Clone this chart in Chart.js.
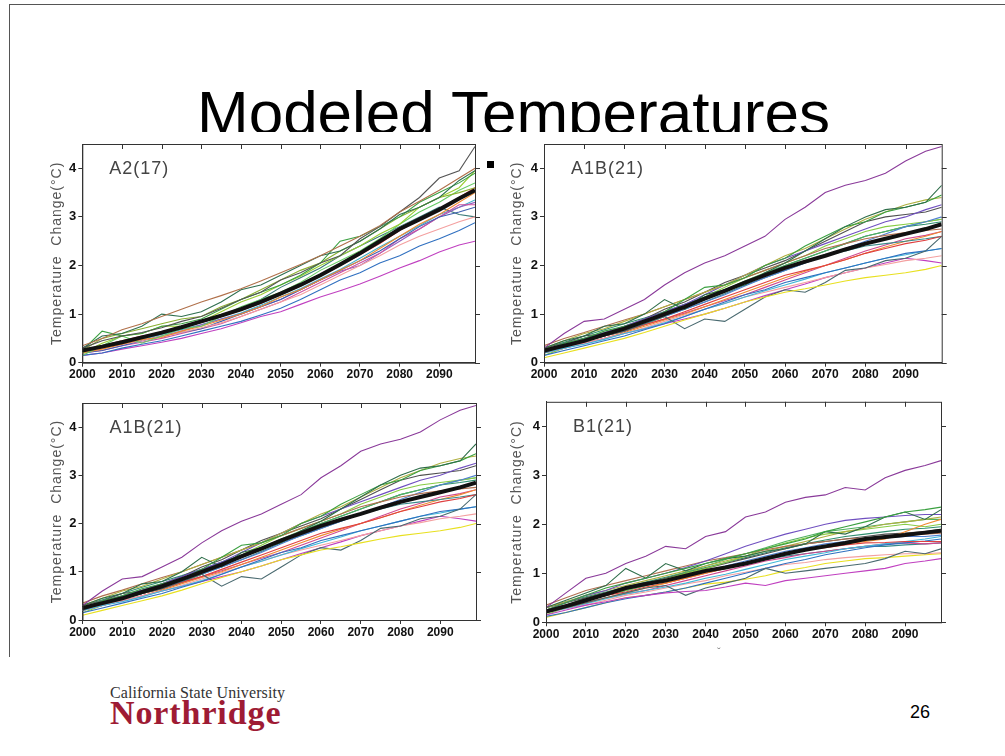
<!DOCTYPE html>
<html>
<head>
<meta charset="utf-8">
<script src="https://cdn.jsdelivr.net/npm/chart.js@4.4.0/dist/chart.umd.min.js"></script>
<style>
    body { margin: 0; width: 1005px; height: 756px; background: #fff; position: relative; overflow: hidden; font-family: "Liberation Sans", Arial, sans-serif; }
    #slide-frame { position: absolute; left: 9px; top: 4px; width: 1010px; height: 652px; border-left: 1.5px solid #555; border-top: 1.5px solid #555; }
    #title { position: absolute; left: 197px; top: 82px; font-size: 62px; line-height: 62px; color: #000; white-space: nowrap; }
    #cover { position: absolute; left: 30px; top: 132px; width: 935px; height: 530px; background: #fff; }
    canvas { position: absolute; }
    #marker { position: absolute; left: 487px; top: 161px; width: 7px; height: 7px; background: #000; }
    #tick-mark { position: absolute; left: 717px; top: 646px; font-size: 11px; color: #777; }
    #csu { position: absolute; left: 110px; top: 685px; font-family: "Liberation Serif", serif; font-size: 16px; line-height: 16px; color: #333; white-space: nowrap; letter-spacing: 0.1px; }
    #northridge { position: absolute; left: 110px; top: 696px; font-family: "Liberation Serif", serif; font-weight: bold; font-size: 34px; line-height: 34px; color: #9e1b34; letter-spacing: 0.9px; white-space: nowrap; }
    #page { position: absolute; left: 910px; top: 703px; font-size: 18px; line-height: 18px; color: #000; }
</style>
</head>
<body>
<div id="slide-frame"></div>
<div id="title">Modeled Temperatures</div>
<div id="cover"></div>
<canvas id="chart-a2" width="450" height="260" style="left:40px;top:132px;"></canvas>
<canvas id="chart-a1b-1" width="460" height="260" style="left:500px;top:132px;"></canvas>
<canvas id="chart-a1b-2" width="450" height="265" style="left:40px;top:392px;"></canvas>
<canvas id="chart-b1" width="460" height="265" style="left:500px;top:392px;"></canvas>
<div id="marker"></div>
<div id="tick-mark">ˇ</div>
<div id="csu">California State University</div>
<div id="northridge">Northridge</div>
<div id="page">26</div>

<script>
// sample years (every 5 years, last one 2099)
const years = [2000, 2005, 2010, 2015, 2020, 2025, 2030, 2035, 2040, 2045, 2050, 2055, 2060, 2065, 2070, 2075, 2080, 2085, 2090, 2095, 2099];
const yTicks = [0, 1, 2, 3, 4];
const xTicks = [2000, 2010, 2020, 2030, 2040, 2050, 2060, 2070, 2080, 2090];

// ---- A2 (17 models) ----
const a2Mean = [0.25, 0.33, 0.42, 0.52, 0.62, 0.73, 0.85, 0.97, 1.10, 1.25, 1.42, 1.60, 1.80, 2.02, 2.25, 2.50, 2.75, 2.95, 3.15, 3.38, 3.55];
const a2Brown = [0.35, 0.50, 0.68, 0.80, 0.95, 1.10, 1.25, 1.38, 1.52, 1.68, 1.85, 2.02, 2.20, 2.40, 2.60, 2.82, 3.10, 3.32, 3.55, 3.80, 4.00];
const a2Gray = [0.30, 0.45, 0.55, 0.62, 0.72, 0.85, 0.95, 1.12, 1.30, 1.45, 1.70, 1.85, 2.05, 2.20, 2.55, 2.80, 3.10, 3.40, 3.80, 3.95, 4.45];
const a2DarkGreen = [0.30, 0.55, 0.60, 0.75, 1.00, 0.95, 1.05, 1.25, 1.50, 1.60, 1.80, 2.00, 2.20, 2.30, 2.50, 2.75, 3.05, 3.20, 3.40, 3.75, 3.95];
const a2Green = [0.25, 0.65, 0.55, 0.60, 0.75, 0.80, 0.90, 1.10, 1.30, 1.45, 1.60, 1.80, 2.05, 2.50, 2.60, 2.80, 3.00, 3.30, 3.50, 3.70, 3.90];
const a2YellowGreen = [0.20, 0.40, 0.55, 0.60, 0.75, 0.75, 0.85, 1.05, 1.25, 1.40, 1.60, 1.78, 2.00, 2.20, 2.40, 2.65, 2.85, 3.20, 3.40, 3.60, 3.95];
const a2Olive = [0.25, 0.50, 0.60, 0.70, 0.80, 0.90, 0.95, 1.15, 1.30, 1.50, 1.70, 1.90, 2.05, 2.30, 2.50, 2.75, 3.00, 3.20, 3.40, 3.50, 3.60];
const a2LightGreen = [0.15, 0.35, 0.55, 0.40, 0.55, 0.70, 0.75, 0.95, 1.15, 1.30, 1.45, 1.65, 1.90, 2.10, 2.30, 2.55, 2.85, 3.10, 3.30, 3.55, 3.70];
const a2Red = [0.25, 0.35, 0.45, 0.55, 0.62, 0.72, 0.83, 0.95, 1.08, 1.22, 1.40, 1.58, 1.78, 2.00, 2.22, 2.45, 2.72, 2.95, 3.15, 3.40, 3.60];
const a2Orange = [0.20, 0.28, 0.38, 0.48, 0.52, 0.65, 0.75, 0.88, 1.00, 1.15, 1.35, 1.50, 1.70, 1.90, 2.10, 2.35, 2.60, 2.85, 3.05, 3.30, 3.50];
const a2Salmon = [0.20, 0.30, 0.38, 0.45, 0.55, 0.62, 0.72, 0.82, 0.95, 1.10, 1.25, 1.40, 1.60, 1.80, 2.00, 2.20, 2.42, 2.60, 2.75, 2.90, 3.00];
const a2Blue = [0.15, 0.20, 0.30, 0.38, 0.45, 0.55, 0.65, 0.75, 0.85, 0.98, 1.12, 1.30, 1.50, 1.70, 1.85, 2.05, 2.20, 2.40, 2.55, 2.72, 2.88];
const a2Blue2 = [0.20, 0.25, 0.35, 0.45, 0.55, 0.62, 0.70, 0.85, 1.00, 1.15, 1.30, 1.50, 1.70, 1.90, 2.10, 2.30, 2.55, 2.80, 3.00, 3.10, 3.20];
const a2Magenta = [0.15, 0.20, 0.28, 0.35, 0.42, 0.50, 0.60, 0.70, 0.82, 0.95, 1.05, 1.20, 1.35, 1.48, 1.62, 1.78, 1.95, 2.10, 2.28, 2.42, 2.50];
const a2Magenta2 = [0.20, 0.25, 0.35, 0.42, 0.50, 0.60, 0.70, 0.80, 0.95, 1.10, 1.25, 1.45, 1.65, 1.85, 2.05, 2.25, 2.55, 2.75, 3.00, 3.25, 3.25];
const a2Purple = [0.20, 0.30, 0.38, 0.45, 0.55, 0.65, 0.78, 0.90, 1.00, 1.15, 1.30, 1.50, 1.70, 1.88, 2.00, 2.25, 2.50, 2.75, 3.00, 3.20, 3.30];
const a2Teal = [0.25, 0.35, 0.45, 0.50, 0.62, 0.72, 0.85, 0.98, 1.12, 1.30, 1.55, 1.75, 1.95, 2.20, 2.40, 2.60, 2.80, 3.00, 3.20, 3.05, 3.00];
const a2Cyan = [0.20, 0.30, 0.40, 0.48, 0.58, 0.68, 0.78, 0.90, 1.02, 1.18, 1.35, 1.52, 1.72, 1.92, 2.15, 2.38, 2.60, 2.82, 3.05, 3.20, 3.35];

// ---- A1B (21 models) ----
const a1bMean = [0.25, 0.35, 0.45, 0.58, 0.70, 0.85, 1.00, 1.15, 1.32, 1.48, 1.65, 1.80, 1.95, 2.08, 2.20, 2.33, 2.45, 2.55, 2.65, 2.75, 2.85];
const a1bPurpleTop = [0.30, 0.60, 0.85, 0.90, 1.10, 1.30, 1.60, 1.85, 2.05, 2.20, 2.40, 2.60, 2.95, 3.20, 3.50, 3.65, 3.75, 3.90, 4.15, 4.35, 4.45];
const a1bYellow = [0.10, 0.20, 0.30, 0.40, 0.50, 0.62, 0.75, 0.88, 1.00, 1.12, 1.25, 1.35, 1.45, 1.52, 1.60, 1.68, 1.75, 1.80, 1.85, 1.92, 2.00];
const a1bSlate = [0.20, 0.35, 0.45, 0.55, 0.65, 0.80, 0.95, 0.70, 0.90, 0.85, 1.10, 1.35, 1.50, 1.45, 1.65, 1.90, 1.95, 2.10, 2.15, 2.30, 2.60];
const a1bDarkGreen = [0.30, 0.45, 0.55, 0.75, 0.80, 1.00, 1.30, 1.10, 1.40, 1.50, 1.60, 1.85, 2.05, 2.30, 2.55, 2.80, 3.00, 3.15, 3.20, 3.30, 3.65];
const a1bGreen = [0.25, 0.40, 0.50, 0.65, 0.75, 0.85, 1.05, 1.30, 1.55, 1.60, 1.75, 2.00, 2.15, 2.40, 2.60, 2.80, 2.90, 3.10, 3.20, 3.30, 3.45];
const a1bOlive = [0.30, 0.45, 0.60, 0.70, 0.85, 1.00, 1.15, 1.30, 1.45, 1.60, 1.80, 2.00, 2.20, 2.35, 2.55, 2.75, 2.95, 3.10, 3.25, 3.35, 3.40];
const a1bBrown = [0.35, 0.50, 0.62, 0.75, 0.88, 1.00, 1.15, 1.30, 1.45, 1.60, 1.75, 1.90, 2.05, 2.20, 2.35, 2.45, 2.55, 2.62, 2.68, 2.72, 2.75];
const a1bRed = [0.25, 0.35, 0.45, 0.55, 0.65, 0.78, 0.90, 1.05, 1.20, 1.35, 1.50, 1.65, 1.80, 1.90, 2.00, 2.12, 2.25, 2.35, 2.45, 2.52, 2.60];
const a1bBlue = [0.15, 0.25, 0.35, 0.45, 0.55, 0.68, 0.80, 0.95, 1.10, 1.25, 1.40, 1.50, 1.65, 1.75, 1.85, 1.95, 2.05, 2.15, 2.25, 2.30, 2.35];
const a1bCyan = [0.20, 0.30, 0.38, 0.48, 0.60, 0.70, 0.82, 0.95, 1.10, 1.22, 1.35, 1.48, 1.60, 1.72, 1.85, 1.95, 2.05, 2.15, 2.22, 2.30, 2.35];
const a1bPink = [0.20, 0.30, 0.40, 0.50, 0.60, 0.72, 0.85, 0.98, 1.10, 1.22, 1.35, 1.45, 1.55, 1.65, 1.75, 1.85, 1.95, 2.02, 2.10, 2.15, 2.20];
const a1bMagenta = [0.20, 0.30, 0.40, 0.50, 0.60, 0.70, 0.80, 0.90, 1.00, 1.12, 1.25, 1.38, 1.50, 1.62, 1.75, 1.85, 1.95, 2.05, 2.15, 2.10, 2.05];
const a1bPurple2 = [0.25, 0.40, 0.50, 0.62, 0.75, 0.90, 1.05, 1.20, 1.40, 1.60, 1.80, 2.00, 2.15, 2.30, 2.45, 2.60, 2.75, 2.90, 3.00, 3.15, 3.25];
const a1bBlue2 = [0.25, 0.35, 0.45, 0.55, 0.68, 0.80, 0.95, 1.10, 1.25, 1.40, 1.58, 1.75, 1.90, 2.05, 2.20, 2.35, 2.50, 2.65, 2.80, 2.90, 3.00];
const a1bLightGreen = [0.15, 0.30, 0.42, 0.55, 0.65, 0.78, 0.95, 1.15, 1.35, 1.55, 1.75, 1.90, 2.05, 2.20, 2.40, 2.55, 2.70, 2.80, 2.85, 2.90, 2.95];
const a1bGray = [0.30, 0.40, 0.55, 0.60, 0.75, 0.90, 1.10, 1.25, 1.45, 1.65, 1.80, 1.95, 2.10, 2.30, 2.50, 2.70, 2.90, 3.00, 3.05, 3.10, 3.20];
const a1bTeal = [0.25, 0.35, 0.48, 0.55, 0.70, 0.82, 0.95, 1.10, 1.25, 1.42, 1.60, 1.75, 1.90, 2.05, 2.20, 2.30, 2.40, 2.45, 2.50, 2.55, 2.60];
const a1bOrange = [0.20, 0.30, 0.40, 0.50, 0.62, 0.75, 0.88, 1.00, 1.15, 1.30, 1.45, 1.60, 1.75, 1.88, 2.00, 2.12, 2.25, 2.38, 2.50, 2.60, 2.70];
const a1bMagenta2 = [0.25, 0.35, 0.45, 0.55, 0.65, 0.78, 0.90, 1.02, 1.15, 1.28, 1.40, 1.55, 1.70, 1.85, 2.00, 2.15, 2.30, 2.42, 2.55, 2.62, 2.70];
const a1bGreen2 = [0.20, 0.35, 0.50, 0.60, 0.70, 0.82, 0.98, 1.15, 1.30, 1.50, 1.68, 1.85, 2.00, 2.15, 2.30, 2.45, 2.60, 2.70, 2.80, 2.90, 2.95];
const a1bSeaGreen = [0.30, 0.42, 0.55, 0.68, 0.80, 0.92, 1.05, 1.20, 1.35, 1.50, 1.65, 1.82, 2.00, 2.15, 2.30, 2.45, 2.60, 2.70, 2.80, 2.85, 2.90];

// ---- B1 (21 models) ----
const b1Mean = [0.22, 0.33, 0.45, 0.57, 0.70, 0.78, 0.85, 0.95, 1.05, 1.12, 1.20, 1.30, 1.40, 1.48, 1.55, 1.62, 1.70, 1.74, 1.78, 1.83, 1.87];
const b1PurpleTop = [0.30, 0.60, 0.90, 1.00, 1.20, 1.35, 1.55, 1.50, 1.75, 1.85, 2.15, 2.25, 2.45, 2.55, 2.60, 2.75, 2.70, 2.95, 3.10, 3.20, 3.30];
const b1Magenta = [0.15, 0.25, 0.35, 0.42, 0.50, 0.55, 0.60, 0.63, 0.65, 0.72, 0.80, 0.75, 0.85, 0.90, 0.95, 1.00, 1.05, 1.10, 1.20, 1.25, 1.30];
const b1Slate = [0.20, 0.30, 0.40, 0.50, 0.60, 0.70, 0.75, 0.55, 0.70, 0.80, 0.90, 1.10, 1.00, 1.05, 1.10, 1.15, 1.20, 1.30, 1.45, 1.40, 1.50];
const b1Green = [0.25, 0.40, 0.55, 0.70, 0.80, 0.90, 1.00, 1.10, 1.20, 1.30, 1.40, 1.50, 1.60, 1.70, 1.85, 1.95, 2.05, 2.15, 2.25, 2.30, 2.35];
const b1DarkGreen = [0.30, 0.45, 0.60, 0.75, 1.10, 0.90, 1.20, 1.05, 1.20, 1.30, 1.35, 1.45, 1.50, 1.60, 1.85, 1.80, 1.95, 2.15, 2.25, 2.10, 2.30];
const b1Purple2 = [0.25, 0.40, 0.55, 0.65, 0.80, 0.90, 1.00, 1.12, 1.25, 1.40, 1.55, 1.68, 1.80, 1.90, 2.00, 2.08, 2.12, 2.15, 2.18, 2.20, 2.20];
const b1Brown = [0.35, 0.50, 0.65, 0.75, 0.85, 0.95, 1.05, 1.15, 1.25, 1.32, 1.40, 1.48, 1.55, 1.60, 1.65, 1.70, 1.72, 1.75, 1.78, 1.80, 1.82];
const b1Olive = [0.30, 0.42, 0.55, 0.65, 0.75, 0.85, 0.95, 1.05, 1.15, 1.25, 1.35, 1.45, 1.55, 1.65, 1.75, 1.85, 1.92, 2.00, 2.05, 2.10, 2.15];
const b1Orange = [0.20, 0.30, 0.40, 0.50, 0.60, 0.70, 0.80, 0.90, 1.00, 1.10, 1.20, 1.30, 1.40, 1.50, 1.55, 1.60, 1.65, 1.70, 1.85, 2.00, 2.10];
const b1Red = [0.25, 0.35, 0.45, 0.55, 0.62, 0.72, 0.80, 0.90, 1.00, 1.10, 1.20, 1.30, 1.40, 1.48, 1.52, 1.58, 1.62, 1.63, 1.65, 1.65, 1.65];
const b1Blue = [0.12, 0.20, 0.30, 0.40, 0.48, 0.55, 0.62, 0.70, 0.80, 0.90, 1.00, 1.10, 1.20, 1.28, 1.38, 1.45, 1.52, 1.58, 1.62, 1.66, 1.70];
const b1Cyan = [0.20, 0.28, 0.38, 0.48, 0.58, 0.65, 0.72, 0.80, 0.90, 0.98, 1.08, 1.18, 1.28, 1.35, 1.42, 1.50, 1.55, 1.60, 1.65, 1.70, 1.75];
const b1Pink = [0.20, 0.28, 0.35, 0.45, 0.55, 0.62, 0.70, 0.78, 0.85, 0.95, 1.02, 1.10, 1.18, 1.22, 1.28, 1.32, 1.35, 1.38, 1.40, 1.40, 1.42];
const b1Yellow = [0.10, 0.20, 0.30, 0.40, 0.50, 0.55, 0.62, 0.70, 0.78, 0.82, 0.88, 0.95, 1.05, 1.12, 1.20, 1.25, 1.30, 1.32, 1.35, 1.38, 1.40];
const b1Magenta2 = [0.20, 0.30, 0.40, 0.50, 0.58, 0.65, 0.75, 0.85, 0.95, 1.05, 1.15, 1.25, 1.32, 1.40, 1.45, 1.50, 1.55, 1.60, 1.62, 1.60, 1.62];
const b1LightGreen = [0.15, 0.30, 0.45, 0.55, 0.65, 0.75, 0.88, 1.00, 1.10, 1.22, 1.35, 1.50, 1.62, 1.72, 1.80, 1.85, 1.90, 1.95, 2.00, 1.95, 2.00];
const b1Gray = [0.30, 0.40, 0.50, 0.60, 0.70, 0.80, 0.90, 1.00, 1.10, 1.20, 1.30, 1.40, 1.50, 1.60, 1.65, 1.70, 1.75, 1.80, 1.82, 1.85, 1.90];
const b1Teal = [0.25, 0.35, 0.45, 0.55, 0.65, 0.75, 0.85, 0.95, 1.05, 1.12, 1.20, 1.28, 1.35, 1.40, 1.45, 1.50, 1.55, 1.55, 1.58, 1.60, 1.62];
const b1Green2 = [0.20, 0.35, 0.50, 0.60, 0.70, 0.80, 0.90, 1.02, 1.15, 1.28, 1.40, 1.52, 1.65, 1.75, 1.85, 1.90, 1.95, 2.00, 2.05, 2.10, 2.10];
const b1Blue2 = [0.25, 0.35, 0.45, 0.55, 0.65, 0.75, 0.85, 0.95, 1.05, 1.15, 1.25, 1.35, 1.45, 1.52, 1.60, 1.65, 1.70, 1.72, 1.75, 1.75, 1.78];
const b1SeaGreen = [0.30, 0.42, 0.52, 0.62, 0.72, 0.82, 0.92, 1.02, 1.12, 1.22, 1.32, 1.42, 1.52, 1.60, 1.68, 1.75, 1.80, 1.85, 1.90, 1.92, 1.95];

const a2Members = [a2Brown, a2Gray, a2DarkGreen, a2Green, a2YellowGreen, a2Olive, a2LightGreen, a2Red, a2Orange, a2Salmon, a2Blue, a2Blue2, a2Magenta, a2Magenta2, a2Purple, a2Teal, a2Cyan];
const a2Colors = ['#b0704a', '#555555', '#2f6f4f', '#3aa040', '#9acd32', '#8bb030', '#66cc66', '#e04040', '#f08a30', '#f4a0a0', '#3070c0', '#4060b0', '#c040c0', '#d050a0', '#9060c0', '#3a7a78', '#40b0c8'];

const a1bMembers = [a1bPurpleTop, a1bYellow, a1bSlate, a1bDarkGreen, a1bGreen, a1bOlive, a1bBrown, a1bRed, a1bBlue, a1bCyan, a1bPink, a1bMagenta, a1bPurple2, a1bBlue2, a1bLightGreen, a1bGray, a1bTeal, a1bOrange, a1bMagenta2, a1bGreen2, a1bSeaGreen];
const a1bColors = ['#8a3a9a', '#e8e020', '#4a6a70', '#2e6e4a', '#3aa040', '#b0b040', '#b07050', '#e04040', '#3070c0', '#40b8d8', '#f4a0a0', '#c040c0', '#7050c0', '#5080d0', '#88cc44', '#505050', '#3a8a8a', '#f08a30', '#d04890', '#50b060', '#2f8f6f'];

const b1Members = [b1PurpleTop, b1Magenta, b1Slate, b1Green, b1DarkGreen, b1Purple2, b1Brown, b1Olive, b1Orange, b1Red, b1Blue, b1Cyan, b1Pink, b1Yellow, b1Magenta2, b1LightGreen, b1Gray, b1Teal, b1Green2, b1Blue2, b1SeaGreen];
const b1Colors = ['#8a3a9a', '#c040c0', '#4a6a70', '#3aa040', '#2e6e4a', '#7050c0', '#b07050', '#b0b040', '#f08a30', '#e04040', '#3070c0', '#40b8d8', '#f4a0a0', '#e8e020', '#d04890', '#88cc44', '#505050', '#3a8a8a', '#50b060', '#5080d0', '#2f8f6f'];

// frame, inner top ticks, outer right ticks, panel label and y title
const panelDecor = {
    id: 'panelDecor',
    afterDraw(chart, args, opts) {
        const ctx = chart.ctx;
        const area = chart.chartArea;
        const xs = chart.scales.x;
        const ys = chart.scales.y;
        ctx.save();
        ctx.strokeStyle = '#333';
        ctx.lineWidth = 1;
        ctx.strokeRect(area.left + 0.5, area.top + 0.5, area.right - area.left, area.bottom - area.top);
        ctx.beginPath();
        xTicks.forEach(v => {
            if (v === 2000) return;
            const px = Math.round(xs.getPixelForValue(v)) + 0.5;
            ctx.moveTo(px, area.top);
            ctx.lineTo(px, area.top + 5);
        });
        yTicks.forEach(v => {
            const py = Math.round(ys.getPixelForValue(v)) + 0.5;
            ctx.moveTo(area.right, py);
            ctx.lineTo(area.right + 5, py);
        });
        ctx.stroke();

        ctx.fillStyle = '#444';
        ctx.font = '18px "Liberation Sans", Arial, sans-serif';
        ctx.letterSpacing = '1px';
        ctx.textAlign = 'left';
        ctx.textBaseline = 'middle';
        ctx.fillText(opts.label, area.left + 27, area.top + 25);

        ctx.translate(17, (area.top + area.bottom) / 2);
        ctx.rotate(-Math.PI / 2);
        ctx.fillStyle = '#555';
        ctx.font = '14px "Liberation Sans", Arial, sans-serif';
        ctx.letterSpacing = '1px';
        ctx.textAlign = 'center';
        ctx.fillText('Temperature  Change(°C)', 0, 0);
        ctx.restore();
    }
};

function buildPanel(canvasId, label, members, colors, mean, box) {
    const toPoints = vals => years.map((yr, i) => ({ x: yr, y: vals[i] }));
    const datasets = members.map((vals, i) => ({
        data: toPoints(vals),
        borderColor: colors[i],
        borderWidth: 1.1,
        pointRadius: 0,
        order: 1
    }));
    datasets.push({
        data: toPoints(mean),
        borderColor: '#111',
        borderWidth: 4,
        pointRadius: 0,
        order: 0
    });

    return new Chart(document.getElementById(canvasId), {
        type: 'line',
        data: { datasets: datasets },
        plugins: [panelDecor],
        options: {
            responsive: false,
            animation: false,
            devicePixelRatio: 1,
            layout: { padding: { top: box.top, right: box.right, left: 0, bottom: 0 } },
            plugins: {
                legend: { display: false },
                tooltip: { enabled: false },
                panelDecor: { label: label }
            },
            scales: {
                x: {
                    type: 'linear',
                    min: 2000,
                    max: 2099,
                    afterBuildTicks: s => { s.ticks = xTicks.map(v => ({ value: v })); },
                    afterFit: s => { s.height = box.bottom; },
                    ticks: {
                        autoSkip: false,
                        maxRotation: 0,
                        padding: 1,
                        color: '#111',
                        font: { family: '"Liberation Sans", Arial, sans-serif', size: 12, weight: 'bold' },
                        callback: v => String(v)
                    },
                    grid: { drawOnChartArea: false, tickLength: 4, color: '#333' },
                    border: { color: '#333' }
                },
                y: {
                    min: 0,
                    max: 4.5,
                    afterBuildTicks: s => { s.ticks = yTicks.map(v => ({ value: v })); },
                    afterFit: s => { s.width = box.left; },
                    ticks: {
                        padding: 2,
                        color: '#111',
                        font: { family: '"Liberation Sans", Arial, sans-serif', size: 13, weight: 'bold' }
                    },
                    grid: { drawOnChartArea: false, tickLength: 4, color: '#333' },
                    border: { color: '#333' }
                }
            }
        }
    });
}

buildPanel('chart-a2', 'A2(17)', a2Members, a2Colors, a2Mean, { left: 42.3, right: 15, top: 12, bottom: 29.3 });
buildPanel('chart-a1b-1', 'A1B(21)', a1bMembers, a1bColors, a1bMean, { left: 44, right: 18.3, top: 12, bottom: 29.3 });
buildPanel('chart-a1b-2', 'A1B(21)', a1bMembers, a1bColors, a1bMean, { left: 42.5, right: 14, top: 11, bottom: 37 });
buildPanel('chart-b1', 'B1(21)', b1Members, b1Colors, b1Mean, { left: 46, right: 19, top: 9.7, bottom: 34.7 });
</script>
</body>
</html>
